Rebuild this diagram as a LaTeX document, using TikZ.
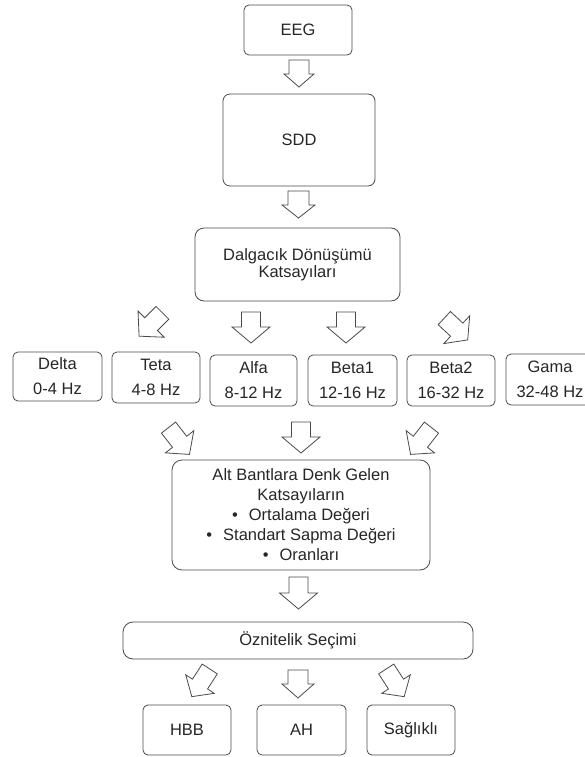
\documentclass[tikz,border=0pt]{standalone}
\usepackage{fontspec}
\setmainfont{Liberation Sans}
\usetikzlibrary{calc}

\definecolor{linegray}{HTML}{4A4A4A}
\definecolor{inkgray}{HTML}{262626}

% Hollow block arrow: #1 centre, #2 rotation (0 = pointing down),
% #3 length, #4 head width, #5 shaft width, #6 head length
\newcommand\blockarrow[6]{%
  \begin{scope}[shift={#1}, rotate=#2]
    \draw[arrowline]
      (-#5/2,-#3/2) -- (#5/2,-#3/2) -- (#5/2,#3/2-#6) -- (#4/2,#3/2-#6)
      -- (0,#3/2) -- (-#4/2,#3/2-#6) -- (-#5/2,#3/2-#6) -- cycle;
  \end{scope}}

\tikzset{
  box/.style={draw=linegray, line width=0.8pt, rounded corners=5pt,
    text=inkgray, align=center, inner sep=0pt, anchor=center,
    font=\fontsize{16.5}{20}\selectfont},
  band/.style={box, minimum width=88pt, minimum height=50pt,
    font=\fontsize{16.5}{25}\selectfont},
  arrowline/.style={draw=linegray, line width=0.8pt, line join=miter, fill=white},
}

\begin{document}
\begin{tikzpicture}[x=1pt, y=-1pt]
  \useasboundingbox (0,0) rectangle (585,757);

  % main chain
  \node[box, minimum width=108pt, minimum height=50pt] (eeg) at (298,30) {EEG};
  \node[box, minimum width=152pt, minimum height=92pt, rounded corners=7pt] (sdd) at (299,140) {SDD};
  \node[box, minimum width=205pt, minimum height=73pt, rounded corners=9pt,
        font=\fontsize{16.5}{17.5}\selectfont] (dwt) at (297.5,264.5)
        {Dalgacık Dönüşümü\\Katsayıları};

  % sub-band boxes
  \node[band, minimum width=89pt, minimum height=49pt] (delta) at (57.5,376.5) {Delta\\0-4 Hz};
  \node[band, minimum height=51pt] (teta)  at (156,377.5)   {Teta\\4-8 Hz};
  \node[band, minimum width=87pt, minimum height=51pt] (alfa)  at (253.5,380.5) {Alfa\\8-12 Hz};
  \node[band, minimum width=89pt, minimum height=51pt] (beta1) at (352.5,380.5) {Beta1\\12-16 Hz};
  \node[band, minimum height=51pt] (beta2) at (451,380.5)   {Beta2\\16-32 Hz};
  \node[band, minimum height=51pt] (gama)  at (550,379.5)   {Gama\\32-48 Hz};

  % statistics of the sub-band coefficients
  \node[box, minimum width=258pt, minimum height=110pt, rounded corners=10pt] (stats) at (301,515)
    {Alt Bantlara Denk Gelen\\Katsayıların\\
     •\hspace{11pt}Ortalama Değeri\\
     •\hspace{11pt}Standart Sapma Değeri\\
     •\hspace{11pt}Oranları};

  \node[box, minimum width=350pt, minimum height=37pt, rounded corners=10pt] (feat) at (298,640.5) {Öznitelik Seçimi};

  % classes
  \node[box, minimum width=88pt, minimum height=50pt] (hbb) at (187,730)   {HBB};
  \node[box, minimum width=89pt, minimum height=50pt] (ah)  at (301.5,730) {AH};
  \node[box, minimum width=88pt, minimum height=50pt] (sag) at (411,730)   {Sağlıklı};

  % block arrows
  \blockarrow{(299,73.5)}{0}{27}{30}{20}{13}
  \blockarrow{(298.5,204.5)}{0}{27}{33}{21}{13}

  \blockarrow{(150.75,324.5)}{-45}{33}{37}{18}{17}
  \blockarrow{(251,327.5)}{0}{31}{38}{19}{16}
  \blockarrow{(346,327.5)}{0}{31}{38}{19}{16}
  \blockarrow{(456,329)}{47}{32}{38}{18}{15}

  \blockarrow{(179,441)}{38}{34}{36}{18}{16}
  \blockarrow{(301,437.5)}{0}{31}{38}{19}{16}
  \blockarrow{(421,441)}{-38}{34}{36}{18}{16}

  \blockarrow{(298.5,593)}{0}{32}{38}{19}{16}

  \blockarrow{(200.8,682.8)}{-33}{33}{34}{18}{15}
  \blockarrow{(298,684)}{0}{28}{32}{20}{14}
  \blockarrow{(395.2,682.8)}{33}{33}{34}{18}{15}
\end{tikzpicture}
\end{document}
